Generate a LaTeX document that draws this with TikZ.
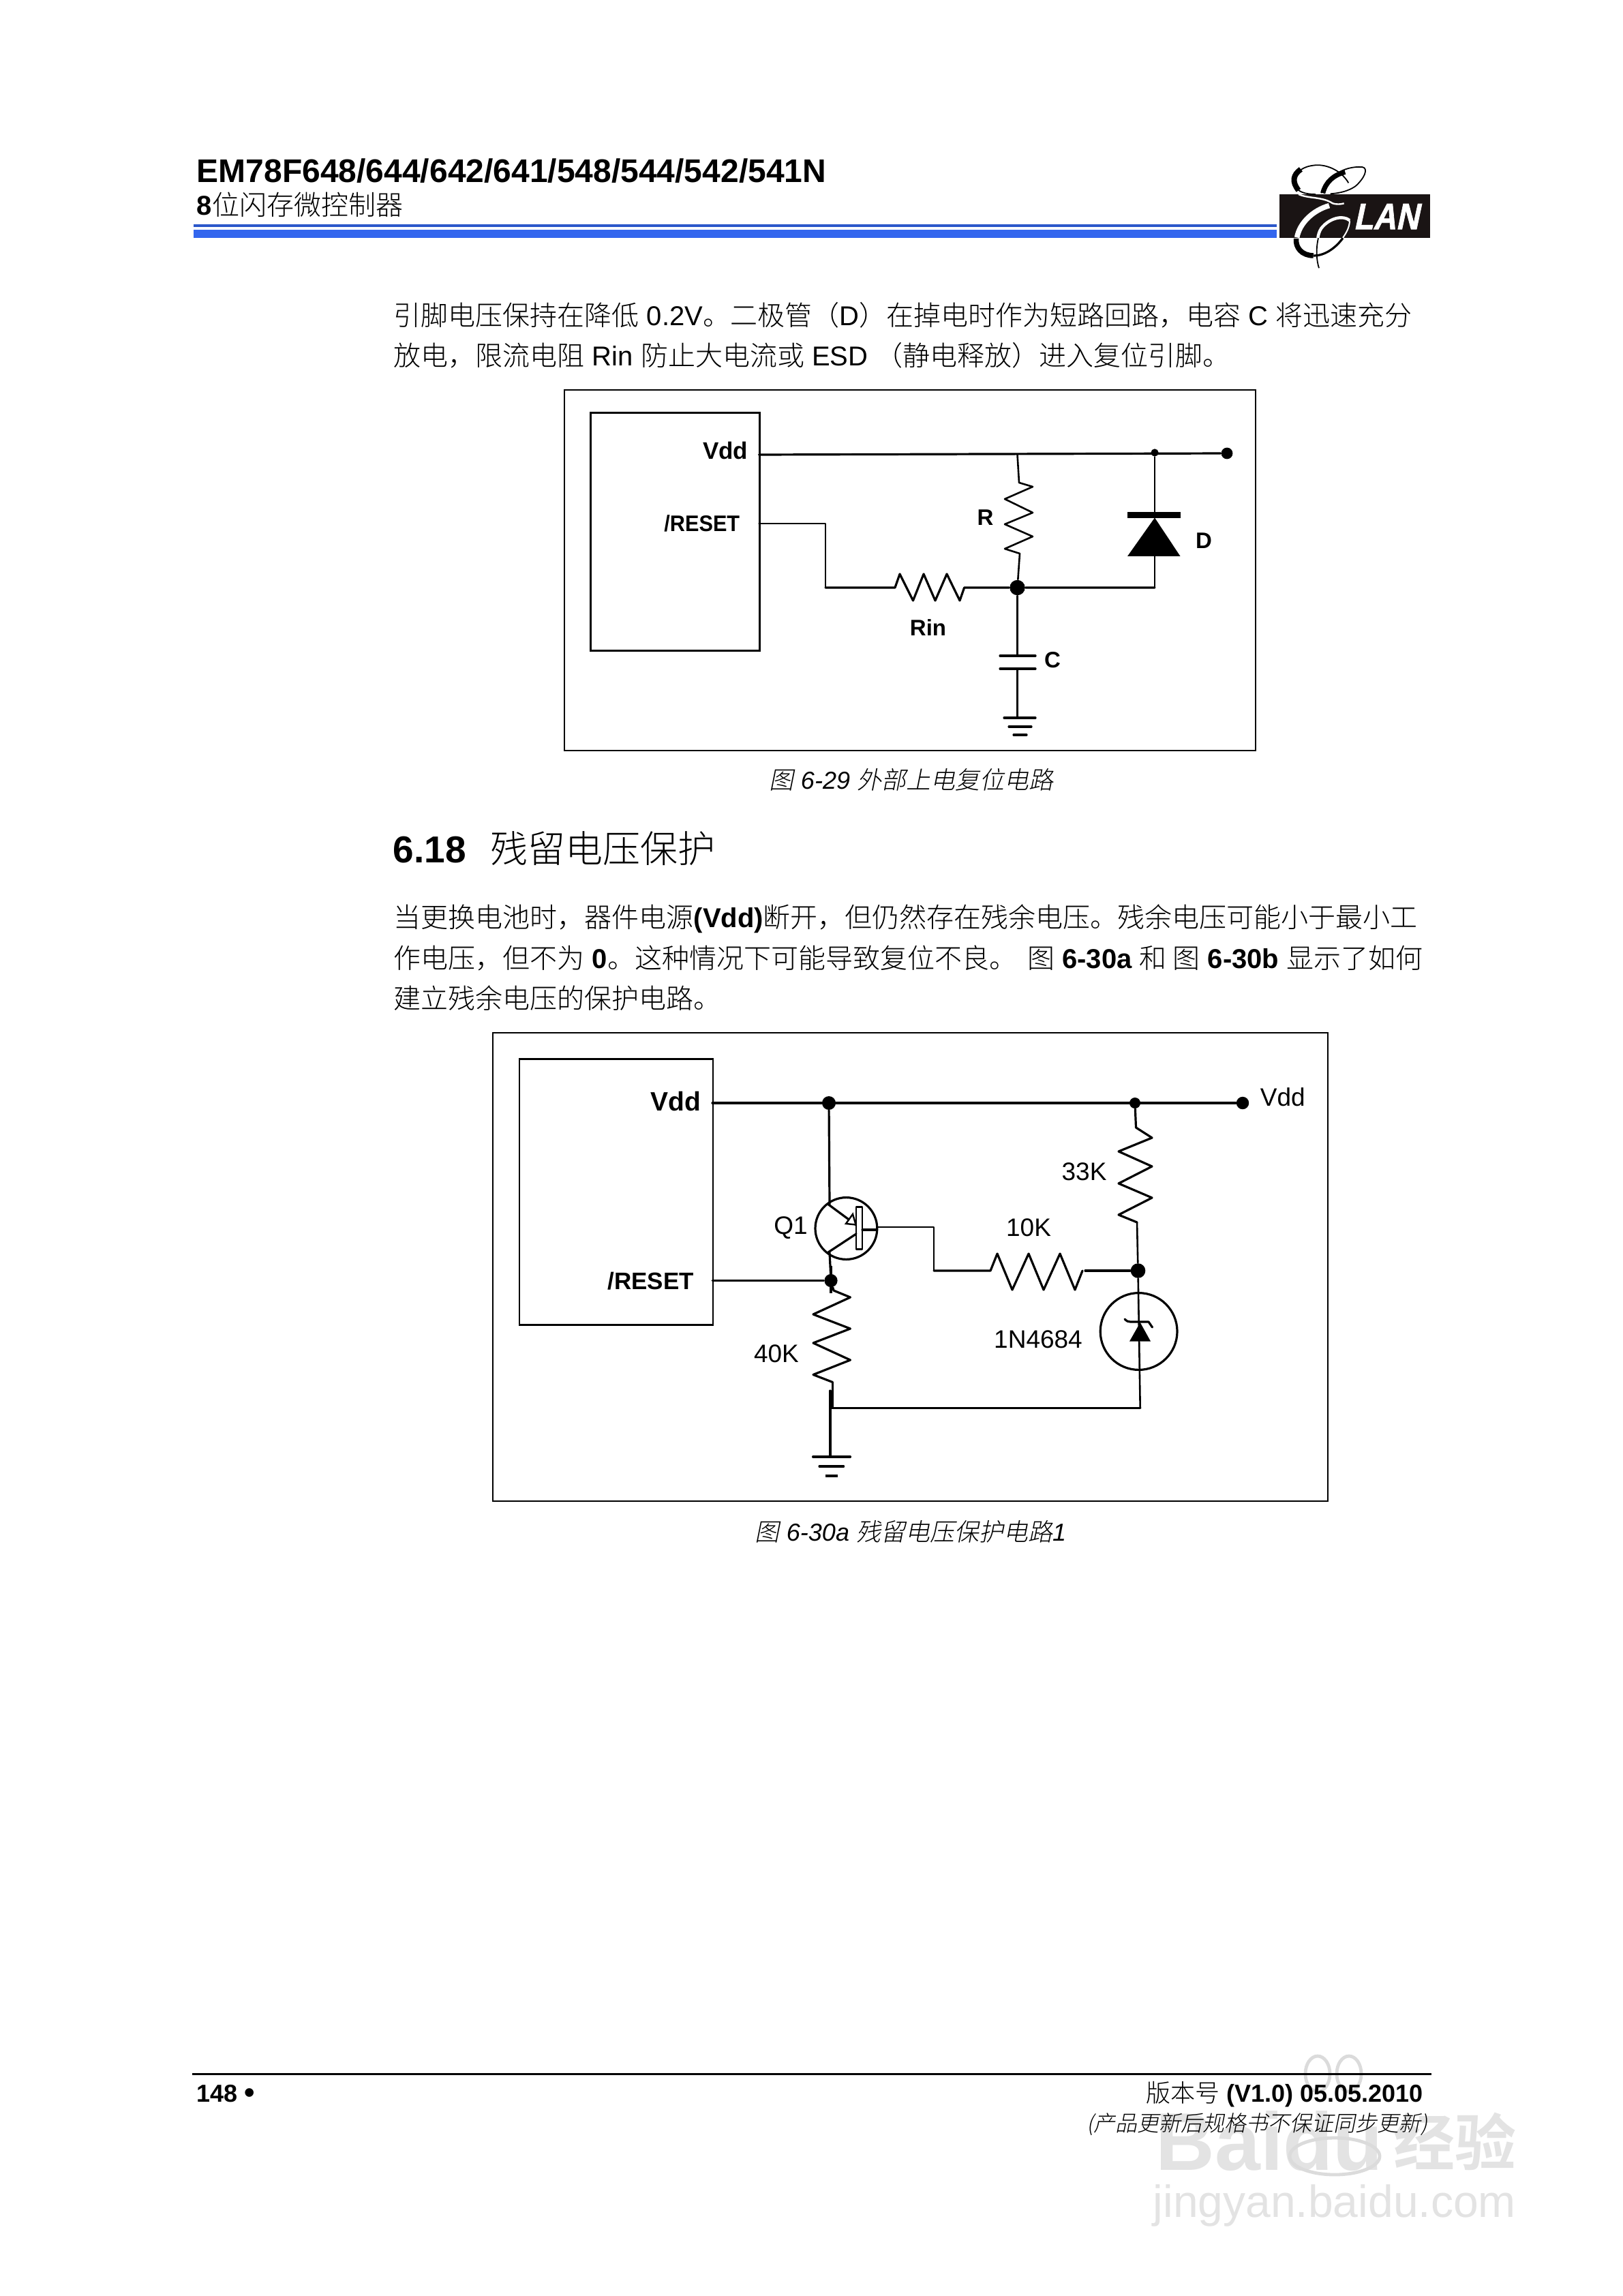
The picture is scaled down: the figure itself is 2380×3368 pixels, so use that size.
\documentclass[tikz,border=0pt]{standalone}
\usepackage{fontspec}
\usepackage{xcolor}
\usepackage{tikz}
\usetikzlibrary{positioning,arrows.meta}
\setmainfont{Liberation Sans}
\newfontfamily\cjk[UprightFont=* Light,AutoFakeSlant=0.2]{Noto Sans CJK SC}
\newfontfamily\lanfont[UprightFont=* Bold,FakeSlant=0.25,FakeBold=1.5]{Liberation Sans}
\newcommand{\cn}[1]{{\cjk #1}}
\definecolor{elanblue}{HTML}{3366EE}
\definecolor{logoblack}{HTML}{1A1414}
\tikzset{
  wire/.style={line width=0.8pt,line cap=round,line join=round},
  thinwire/.style={line width=0.65pt,line cap=round,line join=round},
  frame/.style={line width=0.5pt},
  chip/.style={line width=0.7pt},
  dot/.style={circle,fill=black,inner sep=0pt,minimum size=#1},
  dot/.default=5pt,
  pin/.style={font=\fontsize{8.25}{10}\selectfont\bfseries,inner sep=0pt},
  bigpin/.style={font=\fontsize{9.75}{11}\selectfont\bfseries,inner sep=0pt},
  lab/.style={font=\fontsize{9.25}{11}\selectfont,inner sep=0pt},
  bodyline/.style={anchor=base west,inner sep=0pt,font=\fontsize{10}{12}\selectfont},
  caption/.style={inner sep=0pt,font=\fontsize{9}{11}\selectfont\itshape},
  mark/.style={inner sep=0pt,font=#1,text=black!11},
}
\begin{document}
\begin{tikzpicture}[x=0.25pt,y=-0.25pt]
\useasboundingbox (0,0) rectangle (2380,3368);
\fill[white] (0,0) rectangle (2380,3368);
% watermark
\node[mark=\fontsize{30}{32}\selectfont\bfseries,anchor=base west] (wmbaidu) at (1695,3183) {Baidu};
\node[mark=\fontsize{22.5}{24}\selectfont\bfseries\cjk,anchor=base west] (wmjy) at (2044,3176) {经验};
\node[mark=\fontsize{16.5}{18}\selectfont,anchor=base west] (wmurl) at (1691,3252) {jingyan.baidu.com};
\draw[black!14,line width=1.2pt] (1933,3042) ellipse (18 and 26) (1979,3042) ellipse (18 and 26);
\draw[black!14,line width=1.2pt] (1958,3163) ellipse (66 and 27);
% header
\node[anchor=base west,inner sep=0pt,font=\fontsize{12}{14}\selectfont\bfseries] (title) at (288,268) {EM78F648/644/642/641/548/544/542/541N};
\node[anchor=base west,inner sep=0pt,font=\fontsize{10}{12}\selectfont] (subtitle) at (288,316) {\textbf{8}\cn{位闪存微控制器}};
\fill[elanblue!85!black] (284,329) rectangle (1873,333);
\fill[elanblue] (284,337) rectangle (1873,349);
% logo
\fill[logoblack] (1877,285) rectangle (2098,349);
\begin{scope}[shift={(1870,220)},x=0.0833pt,y=-0.0833pt]
  \draw[line width=0.45pt] (325,145) .. controls (290,85) and (220,60) .. (170,68) .. controls (110,75) and (75,115) .. (88,155) .. controls (100,185) and (135,195) .. (180,195);
  \draw[line width=2pt] (115,85) .. controls (80,110) and (75,140) .. (105,178);
  \draw[line width=0.45pt] (205,190) .. controls (230,120) and (300,70) .. (385,75) .. controls (415,80) and (395,125) .. (355,160) .. controls (325,180) and (290,190) .. (245,193);
  \draw[line width=1.8pt] (212,190) .. controls (225,140) and (260,110) .. (310,97);
  \draw[white,line width=0.6pt] (105,195) .. controls (150,215) and (210,205) .. (255,235) .. controls (270,240) and (290,240) .. (305,235);
  \draw[white,line width=1.9pt] (240,245) .. controls (170,265) and (110,320) .. (98,385);
  \draw[white,line width=1.1pt] (330,310) .. controls (300,285) and (240,300) .. (205,345) .. controls (195,360) and (192,375) .. (190,387);
  \draw[white,line width=0.5pt] (330,310) .. controls (330,340) and (315,365) .. (300,387);
  \draw[line width=1.9pt] (95,390) .. controls (90,430) and (120,465) .. (170,465);
  \draw[line width=0.8pt] (170,465) .. controls (220,467) and (270,430) .. (300,388);
  \draw[line width=0.45pt] (192,388) .. controls (180,440) and (185,490) .. (195,520);
  \node[anchor=west,inner sep=0pt,text=white,font=\fontsize{13.5}{15}\selectfont\lanfont] (lan) at (345,293) {\scalebox{.86}[1]{LAN}};
\end{scope}
% body
\node[bodyline] (l1) at (577,478) {\cn{引脚电压保持在降低} 0.2V\cn{。二极管（}D\cn{）在掉电时作为短路回路，电容} C \cn{将迅速充分}};
\node[bodyline] (l2) at (577,537) {\cn{放电，限流电阻} Rin \cn{防止大电流或} ESD \cn{（静电释放）进入复位引脚。}};
% figure 6-29
\draw[frame] (828,572) rectangle (1842,1101);
\node[draw,chip,minimum width=62pt,minimum height=87.25pt,inner sep=0pt,anchor=north west] (ica) at (865,604) {};
\node[pin,anchor=east,font=\fontsize{8.75}{10}\selectfont\bfseries] (vdda) at (1098,661) {Vdd};
\node[pin,anchor=east] (rsta) at (1086,768) {\scalebox{.93}[1]{/RESET}};
\coordinate (vddao) at (1113.5,667);
\coordinate (rstao) at (1113.5,768);
\node[dot=4.2pt] (enda) at (1800,665) {};
\node[circle,fill=black,inner sep=0pt,minimum size=2.8pt] (jdiode) at (1694,664) {};
\node[dot=5.6pt] (jmid) at (1492.5,862) {};
\coordinate (rtop) at (1492.5,667);
\coordinate (dcorner) at (1694,862);
\coordinate (rbend) at (1211,768);
\coordinate (rbend2) at (1211,862);
\draw[wire] (vddao) -- (enda);
\draw[thinwire] (rtop) -- (1495,708) -- (1515,714) -- (1474,732) -- (1515,752) -- (1474,769) -- (1515,787) -- (1474,805) -- (1496,812) -- (jmid);
\draw[thinwire] (rstao) -- (rbend) -- (rbend2);
\draw[wire] (rbend2) -- (1313,862) -- (1320,842) -- (1339.5,881) -- (1355,842) -- (1372,881) -- (1389,842) -- (1408,881) -- (1414.6,862) -- (jmid) -- (dcorner);
\draw[thinwire] (dcorner) -- (1694,816);
\draw[thinwire] (1694,755) -- (jdiode);
\fill (1694,759.5) -- (1654,816) -- (1731.5,816) -- cycle;
\fill (1654,751) rectangle (1731.5,760);
\coordinate (cplus) at (1492.5,962);
\coordinate (cminus) at (1492.5,981);
\coordinate (gnda) at (1492.5,1053);
\draw[thinwire] (jmid) -- (cplus) (cminus) -- (gnda);
\draw[wire] (1467,962) -- (1519,962) (1467,981) -- (1519,981);
\draw[wire] (1473,1053) -- (1519,1053) (1480,1066) -- (1513,1066) (1487,1078) -- (1506,1078);
\node[pin] (lbr) at (1445.6,759.5) {R};
\node[pin] (lbrin) at (1361.5,921) {Rin};
\node[pin] (lbc) at (1544,968) {C};
\node[pin] (lbd) at (1766,793) {D};
\node[caption] (cap29) at (1337,1144) {\cn{图} 6-29 \cn{外部上电复位电路}};
% section
\node[anchor=base west,inner sep=0pt,font=\fontsize{13.75}{15}\selectfont\bfseries] (sec) at (576,1265) {6.18};
\node[anchor=base west,inner sep=0pt,font=\fontsize{13.75}{15}\selectfont] (sectitle) at (719,1265) {\cn{残留电压保护}};
\node[bodyline] (l3) at (577,1360) {\cn{当更换电池时，器件电源}\textbf{(Vdd)}\cn{断开，但仍然存在残余电压。残余电压可能小于最小工}};
\node[bodyline] (l4) at (577,1420) {\cn{作电压，但不为} \textbf{0}\cn{。这种情况下可能导致复位不良。}\hspace{4pt}\cn{图} \textbf{6-30a} \cn{和 图} \textbf{6-30b} \cn{显示了如何}};
\node[bodyline] (l5) at (577,1479) {\cn{建立残余电压的保护电路。}};
% figure 6-30a
\draw[frame] (723,1515) rectangle (1947.6,2202);
\node[draw,chip,minimum width=71pt,minimum height=97.5pt,inner sep=0pt,anchor=north west] (icb) at (760.5,1552) {};
\node[bigpin,anchor=east] (vddb) at (1029,1616) {Vdd};
\node[bigpin,anchor=east,font=\fontsize{8.75}{10}\selectfont\bfseries] (rstb) at (1018.6,1879) {/RESET};
\node[lab,anchor=west] (vddr) at (1848,1609) {Vdd};
\node[lab] (lbq) at (1160,1801) {Q1};
\node[lab] (lb33) at (1590.5,1719) {33K};
\node[lab] (lb10) at (1509,1801) {10K};
\node[lab] (lb40) at (1139,1986) {40K};
\node[lab] (lbz) at (1523,1965) {1N4684};
\coordinate (vddbo) at (1045,1618);
\coordinate (rstbo) at (1045,1878.5);
\node[dot=5pt] (jq) at (1216,1618) {};
\node[circle,fill=black,inner sep=0pt,minimum size=4pt] (j33) at (1665,1618) {};
\node[dot=4.6pt] (endb) at (1823,1618) {};
\node[dot=4.8pt] (jrst) at (1219,1878.5) {};
\node[dot=5.4pt] (jz) at (1669.5,1864) {};
\node[draw,circle,wire,inner sep=0pt,minimum size=22.7pt] (qone) at (1241.4,1802) {};
\node[draw,circle,wire,inner sep=0pt,minimum size=28.2pt] (zener) at (1670.6,1953) {};
\coordinate (qe) at (1217,1766.6);
\coordinate (qc) at (1217,1837);
\coordinate (bstub) at (1287.6,1800);
\coordinate (bbend) at (1370,1800);
\coordinate (bbend2) at (1370,1864);
\coordinate (gtee) at (1218,2065.6);
\coordinate (ztee) at (1672.7,2065.6);
\coordinate (gndb) at (1218,2137);
\draw[wire] (vddbo) -- (endb);
\draw[thinwire] (rstbo) -- (jrst);
\draw[wire] (jq) -- (qe);
\draw[wire] (qc) -- (jrst);
\draw[line width=1pt] (1219,1857) -- (1219,1897);
% transistor
\draw[thinwire] (1256,1770.6) rectangle (1265,1832.5);
\draw[wire] (1265,1804) -- (1285,1804);
\draw[wire] (1215,1837) -- (1256,1810);
\draw[wire] (1215,1766.6) -- (1255.5,1796.5);
\draw[fill=white,line width=0.6pt] (1255.5,1796.5) -- (1241,1795) -- (1251,1781) -- cycle;
\draw[thinwire] (bstub) -- (bbend) -- (bbend2);
\draw[wire] (bbend2) -- (1453,1864) -- (1463,1839) -- (1485,1892) -- (1509,1839) -- (1531,1892) -- (1555,1839) -- (1577,1892) -- (1588,1864);
\draw[wire] (1592,1864) -- (jz);
% resistors to the rails
\draw[wire] (j33) -- (1666.5,1654) -- (1690,1669) -- (1641,1689) -- (1690,1711) -- (1641,1736) -- (1690,1757) -- (1641,1782) -- (1668,1793);
\draw[thinwire] (1668,1793) -- (jz);
\draw[wire] (jrst) -- (1223,1893) -- (1247.4,1903) -- (1193,1928) -- (1247.4,1949) -- (1193,1970) -- (1247.4,1995) -- (1193,2016.5) -- (1221.5,2027.5);
\draw[thinwire] (1221.5,2027.5) -- (1221.5,2065.6);
\draw[wire] (1218,2040) -- (gndb);
\draw[wire] (gtee) -- (ztee);
\draw[thinwire] (jz) -- (ztee);
% zener
\fill (1672.7,1940) -- (1657,1967.6) -- (1688,1967.6) -- cycle;
\draw[wire] (1650,1935) .. controls (1653,1938) and (1655,1939) .. (1658.4,1939) -- (1685,1939) -- (1690.5,1947);
\draw[wire] (1192.6,2137) -- (1247.4,2137) (1202,2151) -- (1237.6,2151);
\draw[line width=1pt] (1210.6,2165) -- (1229.4,2165);
\node[caption] (cap30) at (1336,2246.5) {\cn{图} 6-30a \cn{残留电压保护电路}1};
% footer
\draw[line width=0.75pt] (282,3042) -- (2100,3042);
\node[anchor=base west,inner sep=0pt,font=\fontsize{9}{11}\selectfont\bfseries] (page) at (288,3083) {148 \raisebox{-0.3pt}{\fontsize{11}{11}\selectfont •}};
\node[anchor=base east,inner sep=0pt,font=\fontsize{9}{11}\selectfont] (ver) at (2088,3083) {\cn{版本号} \textbf{(V1.0) 05.05.2010}};
\node[anchor=base east,inner sep=0pt,font=\fontsize{8}{10}\selectfont\itshape] (note) at (2095,3126) {\cn{(产品更新后规格书不保证同步更新)}};
\end{tikzpicture}
\end{document}
